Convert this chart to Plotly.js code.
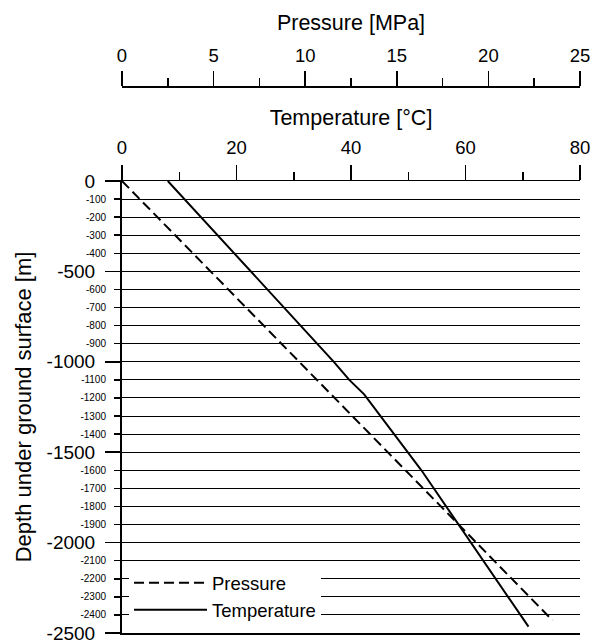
<!DOCTYPE html>
<html>
<head>
<meta charset="utf-8">
<script src="https://cdn.plot.ly/plotly-3.0.1.min.js"></script>
<style>html,body{margin:0;padding:0;background:#fff;}#chart{width:599px;height:644px;}</style>
</head>
<body>
<div id="chart"></div>
<script>
// Data
const tempDepth = [0, -600, -1000, -1100, -1180, -1600, -2000, -2465];
const tempValues = [8, 25.5, 37, 39.7, 42.3, 52.3, 61, 71];
const pressDepth = [0, -2430];
const pressValues = [0, 23.5];

const majorDepthVals = [0, -500, -1000, -1500, -2000, -2500];
const majorDepthText = ['0', '-500', '-1000', '-1500', '-2000', '-2500'];
const minorDepthVals = [-100, -200, -300, -400, -600, -700, -800, -900, -1100, -1200, -1300, -1400,
  -1600, -1700, -1800, -1900, -2100, -2200, -2300, -2400];
const minorDepthText = ['-100', '-200', '-300', '-400', '-600', '-700', '-800', '-900', '-1100', '-1200',
  '-1300', '-1400', '-1600', '-1700', '-1800', '-1900', '-2100', '-2200', '-2300', '-2400'];

const tempTickVals = [0, 20, 40, 60, 80];
const pressTickVals = [0, 5, 10, 15, 20, 25];

const FONT = 'Arial, "Liberation Sans", sans-serif';
const H = 644, mt = 10, mb = 11;
const plotH = H - mt - mb;
const yTop = 181, pressAxisY = 86;

const traces = [
  {
    x: pressValues, y: pressDepth, xaxis: 'x2', yaxis: 'y2',
    type: 'scatter', mode: 'lines', name: 'Pressure',
    line: {color: '#000', width: 2, dash: '10px,5px'}
  },
  {
    x: tempValues, y: tempDepth, xaxis: 'x', yaxis: 'y',
    type: 'scatter', mode: 'lines', name: 'Temperature',
    line: {color: '#000', width: 2}
  }
];

const yDomTop = (H - mb - yTop) / plotH;

const layout = {
  width: 599, height: 644,
  margin: {l: 122, r: 19, t: mt, b: mb, pad: 0},
  paper_bgcolor: '#fff', plot_bgcolor: '#fff',
  font: {family: FONT, color: '#000'},
  showlegend: true,
  legend: {
    x: 0.0153, xanchor: 'left', y: 0.006, yanchor: 'bottom',
    bgcolor: '#fff', borderwidth: 0,
    font: {family: FONT, size: 18.5, color: '#000'},
    itemwidth: 73, tracegroupgap: 0
  },
  xaxis: {
    domain: [0, 1], anchor: 'y', side: 'top',
    range: [0, 80], tickmode: 'array', tickvals: tempTickVals,
    ticks: 'outside', ticklen: 15, tickwidth: 1.5, tickcolor: '#000',
    minor: {dtick: 10, tick0: 0, ticks: 'outside', ticklen: 8, tickwidth: 1.5, tickcolor: '#000', showgrid: false},
    showline: true, linecolor: '#000', linewidth: 1.5, mirror: true,
    showgrid: false, zeroline: false,
    tickfont: {family: FONT, size: 18.5, color: '#000'},
    ticklabelstandoff: 3, ticklabeloverflow: 'allow',
    title: {text: 'Temperature [°C]', font: {family: FONT, size: 21.5, color: '#000'}, standoff: 5},
    fixedrange: true
  },
  xaxis2: {
    domain: [0, 1], overlaying: 'x', anchor: 'free', position: (H - mb - pressAxisY) / plotH,
    side: 'top',
    range: [0, 25], tickmode: 'array', tickvals: pressTickVals,
    ticks: 'outside', ticklen: 15, tickwidth: 1.5, tickcolor: '#000',
    minor: {dtick: 2.5, tick0: 0, ticks: 'outside', ticklen: 8, tickwidth: 1.5, tickcolor: '#000', showgrid: false},
    showline: true, linecolor: '#000', linewidth: 1.5,
    showgrid: false, zeroline: false,
    tickfont: {family: FONT, size: 18.5, color: '#000'},
    ticklabelstandoff: 2, ticklabeloverflow: 'allow',
    title: {text: 'Pressure [MPa]', font: {family: FONT, size: 21.5, color: '#000'}, standoff: 6},
    fixedrange: true
  },
  yaxis: {
    domain: [0, yDomTop], anchor: 'x',
    range: [-2500, 0], tickmode: 'array', tickvals: majorDepthVals, ticktext: majorDepthText,
    ticks: 'outside', ticklen: 15, tickwidth: 1.5, tickcolor: '#000',
    showline: true, linecolor: '#000', linewidth: 2,
    showgrid: true, gridcolor: '#000', gridwidth: 1, zeroline: false,
    tickfont: {family: FONT, size: 19, color: '#000'},
    ticklabelstandoff: 6, ticklabeloverflow: 'allow',
    title: {text: 'Depth under ground surface [m]', font: {family: FONT, size: 22, color: '#000'}, standoff: 9},
    fixedrange: true
  },
  yaxis2: {
    domain: [0, yDomTop], overlaying: 'y', anchor: 'x', side: 'left',
    range: [-2500, 0], tickmode: 'array', tickvals: minorDepthVals, ticktext: minorDepthText,
    ticks: 'outside', ticklen: 7, tickwidth: 1.5, tickcolor: '#000',
    showline: false, showgrid: true, gridcolor: '#000', gridwidth: 1, zeroline: false,
    tickfont: {family: FONT, size: 10, color: '#000'},
    ticklabelstandoff: 6, ticklabeloverflow: 'allow',
    fixedrange: true
  }
};

Plotly.newPlot('chart', traces, layout, {staticPlot: true, displayModeBar: false});
</script>
</body>
</html>
